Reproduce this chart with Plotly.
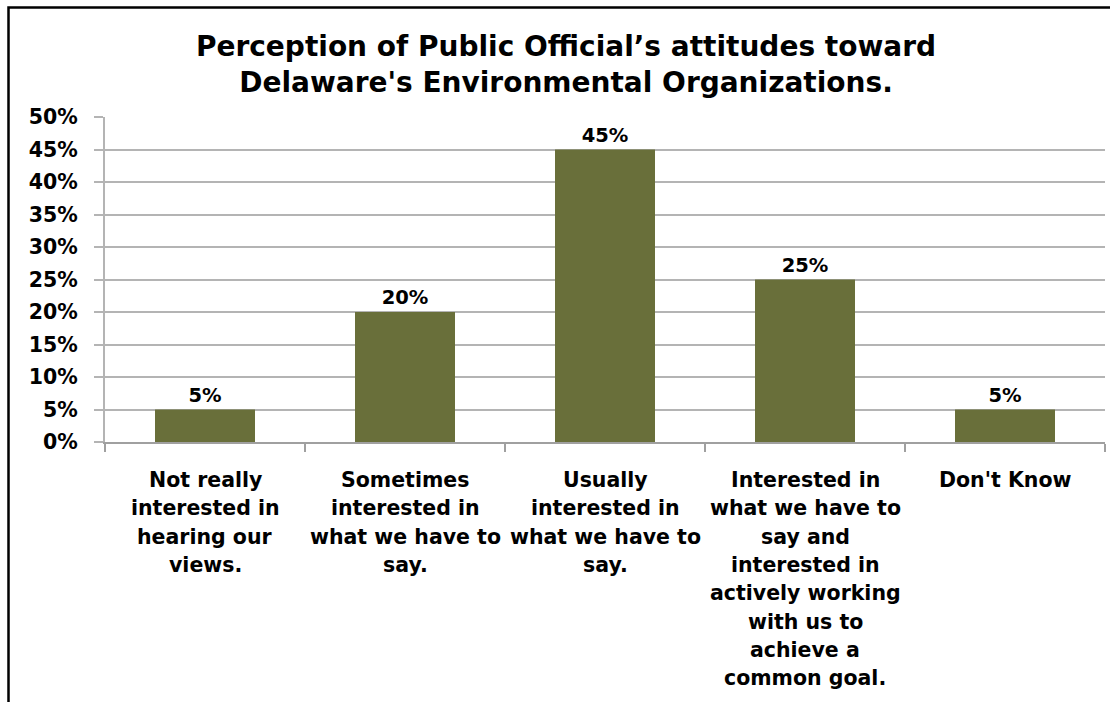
import plotly.graph_objects as go

# Survey responses
categories = [
    "Not really interested in hearing our views.",
    "Sometimes interested in what we have to say.",
    "Usually interested in what we have to say.",
    "Interested in what we have to say and interested in actively working with us to achieve a common goal.",
    "Don't Know",
]
label_lines = [
    ["Not really", "interested in", "hearing our", "views."],
    ["Sometimes", "interested in", "what we have to", "say."],
    ["Usually", "interested in", "what we have to", "say."],
    ["Interested in", "what we have to", "say and", "interested in",
     "actively working", "with us to", "achieve a", "common goal."],
    ["Don't Know"],
]
shares = [5, 20, 45, 25, 5]
y_ticks = [0, 5, 10, 15, 20, 25, 30, 35, 40, 45, 50]
y_tick_text = [f"{v}%" for v in y_ticks]

title_text = ("Perception of Public Official\u2019s attitudes toward<br>"
              "Delaware's Environmental Organizations.")

FONT = "DejaVu Sans"
BAR_COLOR = "#696F3A"
GRID = "#B4B4B4"

W, H = 1110, 702
L, R, T, B = 105, 5, 117, 260
PW, PH = W - L - R, H - T - B


def px_to_paper_x(px):
    return (px - L) / PW


def px_to_paper_y(py):
    return (H - B - py) / PH


fig = go.Figure(
    go.Bar(
        x=categories,
        y=shares,
        marker=dict(color=BAR_COLOR, line=dict(width=0)),
        width=0.5,
        text=[f"{v}%" for v in shares],
        textposition="outside",
        textfont=dict(family=FONT, size=19.5, color="#000000", weight="bold"),
        cliponaxis=False,
        hoverinfo="skip",
    )
)

# Multi-line category labels under each bar
annotations = []
for cat, lines in zip(categories, label_lines):
    for j, line in enumerate(lines):
        annotations.append(dict(
            x=cat, xref="x",
            y=px_to_paper_y(480 + j * 28.3), yref="paper",
            text=line, showarrow=False,
            xanchor="center", yanchor="middle",
            font=dict(family=FONT, size=20.5, color="#000000", weight="bold"),
        ))

# Outer chart frame (left and top edges)
shapes = [dict(
    type="path", xref="paper", yref="paper",
    path=(f"M {px_to_paper_x(8.5)} {px_to_paper_y(705)} "
          f"L {px_to_paper_x(8.5)} {px_to_paper_y(7.5)} "
          f"L {px_to_paper_x(1112)} {px_to_paper_y(7.5)}"),
    line=dict(color="#000000", width=2.5),
)]

fig.update_layout(
    width=W, height=H,
    margin=dict(l=L, r=R, t=T, b=B),
    paper_bgcolor="#FFFFFF",
    plot_bgcolor="#FFFFFF",
    showlegend=False,
    title=dict(
        text=title_text,
        x=566 / W, xanchor="center",
        y=1 - 56 / H, yanchor="middle", yref="container",
        font=dict(family=FONT, size=28, color="#000000", weight="bold"),
    ),
    bargap=0.5,
    annotations=annotations,
    shapes=shapes,
    xaxis=dict(
        type="category",
        showticklabels=False,
        showgrid=False,
        showline=True, linecolor="#A0A0A0", linewidth=1.5,
        ticks="outside", tickson="boundaries", ticklen=8,
        tickcolor="#A0A0A0", tickwidth=1.5,
        fixedrange=True,
    ),
    yaxis=dict(
        range=[0, 50],
        tickvals=y_ticks, ticktext=y_tick_text,
        tickfont=dict(family=FONT, size=20.5, color="#000000", weight="bold"),
        showgrid=True, gridcolor=GRID, gridwidth=1.5,
        showline=True, linecolor=GRID, linewidth=2,
        ticks="outside", ticklen=9, tickcolor=GRID, tickwidth=1.5,
        ticklabelstandoff=12,
        zeroline=False,
        fixedrange=True,
    ),
)

fig.write_html("out.html")
